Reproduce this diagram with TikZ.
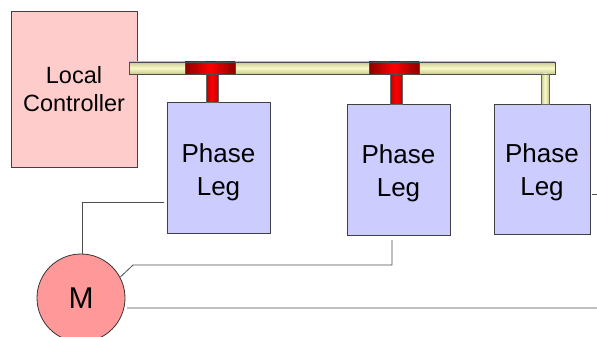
\documentclass[tikz,border=0pt]{standalone}
\usepackage{fontspec}
\setmainfont{Liberation Sans}
\newcommand{\legtext}[1]{\raisebox{-#1}[\height][\depth]{\begin{tabular}{@{}c@{}}Phase\\[-1pt]Leg\end{tabular}}}
\begin{document}
\begin{tikzpicture}[x=1pt,y=-1pt,
  boxline/.style={draw=black!75, line width=0.9pt},
  lcbox/.style={boxline, fill=lcpink, minimum width=126pt, minimum height=156pt, inner sep=0pt, align=center, font=\fontsize{23.5}{28}\selectfont},
  legbox/.style={boxline, fill=legblue, minimum width=103pt, minimum height=131pt, inner sep=0pt, align=center, font=\fontsize{26}{34}\selectfont},
  motor/.style={circle, draw=black!80, line width=0.8pt, fill=motorred, minimum size=88pt, inner sep=0pt, font=\fontsize{30}{30}\selectfont},
  bustube/.style={draw=black!70, line width=0.8pt, top color=busdark, bottom color=busdark, middle color=buslight, shading angle=0},
  redcap/.style={draw=black!70, line width=0.6pt, left color=capdark, right color=capdark, middle color=capred},
  redstem/.style={draw=black!60, line width=0.5pt, left color=stemdark, right color=stemdark, middle color=capred},
  palestem/.style={draw=black!60, line width=0.5pt, left color=busdark, right color=busdark, middle color=buslight},
  wire/.style={draw=black!70, line width=0.8pt}
]
\definecolor{lcpink}{HTML}{FFCCCC}
\definecolor{legblue}{HTML}{CCCCFF}
\definecolor{motorred}{HTML}{FF9999}
\definecolor{busdark}{HTML}{C8C890}
\definecolor{buslight}{HTML}{FAFAC8}
\definecolor{capdark}{HTML}{8C0000}
\definecolor{capred}{HTML}{FF0000}
\definecolor{stemdark}{HTML}{C00000}
\useasboundingbox (0,0) rectangle (597,337);

% boxes
\node[lcbox] (lc) at (74,89) {Local\\Controller};
\node[legbox] (leg1) at (218.5,167.5) {\legtext{5pt}};
\node[legbox] (leg2) at (398.5,169.5) {\legtext{4pt}};
\node[legbox, minimum width=96pt, minimum height=130pt] (leg3) at (542,169) {\legtext{3pt}};
\node[motor] (m) at (81,298) {M};

% bus
\path[bustube] (129,62) rectangle (555,74);
% pale stem to leg 3
\path[palestem] (541,74) rectangle (549,104);
% red T 1
\path[redstem] (206,74) rectangle (218,102);
\path[redcap] (185,62) rectangle (235,74);
\fill[black!80] (205,61) rectangle (216,62.5);
% red T 2
\path[redstem] (390,74) rectangle (402,104);
\path[redcap] (369,62) rectangle (419,74);
\fill[black!80] (389,61) rectangle (400,62.5);

% wires
\coordinate (w1a) at (164,202);
\coordinate (w1b) at (82,202);
\draw[wire] (w1a) -- (w1b) -- (m.north -| w1b);

\coordinate (w2a) at (133,265);
\coordinate (w2b) at (392,265);
\coordinate (w2c) at (392,240);
\draw[wire] (m.28) -- (w2a) -- (w2b) -- (w2c);

\coordinate (w3) at (597,308);
\draw[wire] (m.-13 -| 127,0) -- (w3);

\coordinate (w4) at (597,194);
\draw[wire] (leg3.east |- w4) ++(2,0) -- (w4);
\end{tikzpicture}
\end{document}
